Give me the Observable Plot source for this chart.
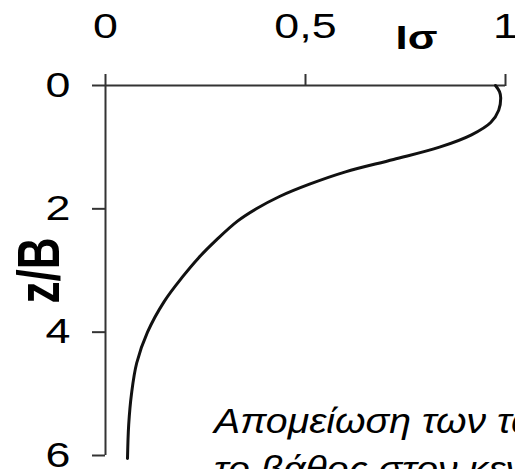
<!DOCTYPE html>
<html>
<head>
<meta charset="utf-8">
<script src="https://cdn.jsdelivr.net/npm/d3@7"></script>
<script src="https://cdn.jsdelivr.net/npm/@observablehq/plot@0.6"></script>
<style>
  html, body { margin: 0; padding: 0; background: #fff; overflow: hidden; width: 515px; height: 469px; }
  #wrap { position: relative; width: 515px; height: 469px; overflow: hidden; }
  #caption {
    position: absolute; left: 214px; top: 397px;
    font-family: "Liberation Sans", Arial, sans-serif; font-style: italic;
    font-size: 35px; line-height: 48px; color: #000; white-space: nowrap;
    transform: scaleX(1.12); transform-origin: 0 0;
  }
</style>
</head>
<body>
<div id="wrap"><div id="chart"></div><div id="caption"></div></div>
<script>
// --- data ---
const xTickValues = [0, 0.5, 1];
const xTickLabels = ["0", "0,5", "1"];
const yTickValues = [0, 2, 4, 6];
const yTickLabels = ["0", "2", "4", "6"];
const zB =     [0,     0.1,   0.2,   0.4,   0.6,   0.8,   1.0,   1.2,  1.4, 1.6,  1.8,   2.0,   2.2,  2.5,   2.8,   3.1,  3.5,   4.0,   4.5,   5.0,   5.5,   6.05];
const iSigma = [0.975, 0.985, 0.988, 0.983, 0.963, 0.915, 0.835, 0.72, 0.6, 0.51, 0.435, 0.377, 0.33, 0.278, 0.232, 0.193, 0.147, 0.105, 0.078, 0.065, 0.058, 0.055];
const xLabel = "Iσ";
const yLabel = "z/B";
const captionLines = ["Απομείωση των τάσεων με", "το βάθος στον κεντρικό άξονα"];

const axisColor = "#333";

const chart = Plot.plot({
  width: 515,
  height: 469,
  marginLeft: 105,
  marginRight: 10,
  marginTop: 85,
  marginBottom: 14,
  style: { fontFamily: "Liberation Sans, Arial, sans-serif", fontSize: "35px", color: "#000", background: "#fff", overflow: "visible" },
  x: { domain: [0, 1] },
  y: { domain: [0, 6], reverse: true },
  marks: [
    Plot.ruleY([0], { stroke: axisColor, strokeWidth: 2 }),
    Plot.ruleX([0], { stroke: axisColor, strokeWidth: 2 }),
    Plot.axisX({ anchor: "top", ticks: xTickValues, tickFormat: (d) => xTickLabels[xTickValues.indexOf(d)],
      tickSize: 12, tickPadding: 36, stroke: axisColor, strokeWidth: 2, fontSize: 35, label: null }),
    Plot.axisY({ anchor: "left", ticks: yTickValues, tickFormat: (d) => yTickLabels[yTickValues.indexOf(d)],
      tickSize: 13, tickPadding: 22, stroke: axisColor, strokeWidth: 2, fontSize: 35, label: null }),
    Plot.line(zB.map((z, i) => ({ z, v: iSigma[i] })), { x: "v", y: "z", curve: "catmull-rom", stroke: "#111", strokeWidth: 3 }),
    Plot.text([xLabel], { frameAnchor: "top-right", text: (d) => d, dx: -89, dy: -37, lineAnchor: "bottom",
      textAnchor: "middle", fontWeight: "bold", fontSize: 34 }),
    Plot.text([yLabel], { frameAnchor: "left", text: (d) => d, dx: -66, rotate: -90, textAnchor: "middle",
      lineAnchor: "middle", fontWeight: "bold", fontSize: 44 })
  ]
});

// horizontal stretch of the lettering, as in the reference picture
chart.querySelectorAll("text").forEach((t) => {
  let tr = t.getAttribute("transform") || "";
  const rotated = /rotate/.test(tr);
  if (!tr && (t.hasAttribute("x") || t.hasAttribute("y"))) {
    tr = `translate(${t.getAttribute("x") || 0},${t.getAttribute("y") || 0})`;
    t.removeAttribute("x"); t.removeAttribute("y");
  }
  t.setAttribute("transform", tr + (rotated ? " scale(1,1.35)" : " scale(1.28,1)"));
});

document.getElementById("chart").appendChild(chart);
const cap = document.getElementById("caption");
captionLines.forEach((line, i) => {
  if (i) cap.appendChild(document.createElement("br"));
  cap.appendChild(document.createTextNode(line));
});
</script>
</body>
</html>
